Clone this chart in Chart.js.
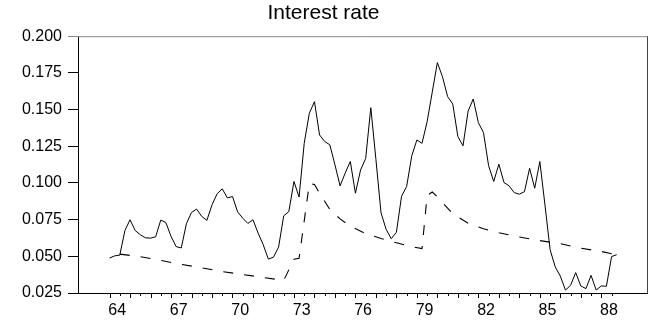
<!DOCTYPE html>
<html>
<head>
<meta charset="utf-8">
<script src="https://cdn.jsdelivr.net/npm/chart.js@4.4.0/dist/chart.umd.min.js"></script>
<style>
  html, body { margin: 0; padding: 0; background: #fff; }
  #wrap { width: 657px; height: 322px; }
</style>
</head>
<body>
<div id="wrap"><canvas id="rateChart"></canvas></div>
<script>
// quarterly interest rate, 64Q1 .. 88Q4
const startYear = 64;
const rate = [
    0.0488, 0.0503, 0.0508, 0.0676, 0.0749, 0.0676, 0.0647, 0.0626, 0.0624, 0.0633,
    0.0747, 0.0730, 0.0636, 0.0566, 0.0557, 0.0722, 0.0799, 0.0822, 0.0772, 0.0745,
    0.0851, 0.0926, 0.0960, 0.0898, 0.0907, 0.0803, 0.0760, 0.0724, 0.0749, 0.0658,
    0.0579, 0.0481, 0.0494, 0.0563, 0.0776, 0.0805, 0.1010, 0.0904, 0.1270, 0.1475,
    0.1554, 0.1327, 0.1282, 0.1260, 0.1124, 0.0980, 0.1067, 0.1146, 0.0930, 0.1088,
    0.1167, 0.1513, 0.1160, 0.0796, 0.0683, 0.0620, 0.0664, 0.0909, 0.0976, 0.1185,
    0.1293, 0.1270, 0.1418, 0.1620, 0.1820, 0.1723, 0.1588, 0.1538, 0.1316, 0.1253,
    0.1490, 0.1572, 0.1411, 0.1343, 0.1117, 0.1010, 0.1128, 0.1003, 0.0980, 0.0934,
    0.0923, 0.0941, 0.1100, 0.0964, 0.1146, 0.0850, 0.0546, 0.0428, 0.0365, 0.0270,
    0.0302, 0.0389, 0.0298, 0.0280, 0.0370, 0.0270, 0.0298, 0.0296, 0.0498, 0.0511
];

// dashed line, read at a few quarters (year + quarter/4)
const trendYears = [
    64.5, 65.5, 66.5, 67.5, 68.5, 69.5, 70.5, 71.5, 72.5, 73.0,
    73.25, 73.75, 74.0, 74.25, 74.75, 75.25, 75.75, 76.5, 77.25, 78.0,
    78.75, 79.25, 79.5, 79.75, 80.0, 80.75, 81.5, 82.25, 83.0, 84.0,
    85.0, 86.0, 87.0, 88.0, 88.5, 88.75
];
const trendRate = [
    0.0515, 0.0497, 0.0472, 0.0445, 0.0422, 0.0396, 0.0376, 0.0356, 0.0336, 0.0480,
    0.0487, 0.0995, 0.0990, 0.0930, 0.0820, 0.0755, 0.0705, 0.0655, 0.0622, 0.0592,
    0.0566, 0.0553, 0.0915, 0.0938, 0.0905, 0.0790, 0.0725, 0.0688, 0.0660, 0.0632,
    0.0607, 0.0586, 0.0555, 0.0533, 0.0518, 0.0528
];

const yTicks = [0.025, 0.050, 0.075, 0.100, 0.125, 0.150, 0.175, 0.200];
const yearLabels = ['64', '67', '70', '73', '76', '79', '82', '85', '88'];

Chart.defaults.font.family = "'Liberation Sans', Arial, sans-serif";
Chart.defaults.color = '#000';

//********************************************************************************
/// frame + half-year tick marks
//********************************************************************************
const framePlugin = {
    id: 'frame',
    afterDraw(chart) {
        const ctx = chart.ctx;
        const area = chart.chartArea;
        const x = chart.scales.x;
        ctx.save();
        ctx.lineWidth = 1;
        ctx.strokeStyle = '#8a8a8a';
        ctx.beginPath();
        ctx.moveTo(area.left, area.top + 0.5);
        ctx.lineTo(area.right, area.top + 0.5);
        ctx.stroke();
        ctx.strokeStyle = '#444';
        ctx.beginPath();
        ctx.moveTo(area.right + 0.5, area.top);
        ctx.lineTo(area.right + 0.5, area.bottom);
        ctx.stroke();

        ctx.strokeStyle = '#000';
        for (let y = startYear; y <= 88.5; y += 0.5) {
            const px = Math.round(x.getPixelForValue(y)) + 0.5;
            const len = (y % 1 === 0) ? 5 : 3;
            ctx.beginPath();
            ctx.moveTo(px, area.bottom);
            ctx.lineTo(px, area.bottom + len);
            ctx.stroke();
        }
        ctx.restore();
    }
};

const ctx = document.getElementById('rateChart');
const chart = new Chart(ctx, {
    type: 'line',
    data: {
        datasets: [{
            label: 'rate',
            data: rate.map((v, i) => ({ x: startYear + i / 4, y: v })),
            borderColor: '#000',
            borderWidth: 1,
            pointRadius: 0,
            tension: 0
        }, {
            label: 'trend',
            data: trendYears.map((yr, i) => ({ x: yr, y: trendRate[i] })),
            borderColor: '#000',
            borderWidth: 1.1,
            borderDash: [10, 11],
            pointRadius: 0,
            tension: 0
        }]
    },
    options: {
        responsive: true,
        maintainAspectRatio: false,
        animation: false,
        devicePixelRatio: 1,
        layout: { padding: { left: 0, right: 10, top: 0, bottom: 0 } },
        plugins: {
            legend: { display: false },
            tooltip: { enabled: false },
            title: {
                display: true,
                text: 'Interest rate',
                color: '#000',
                font: { size: 21, weight: 'normal' },
                padding: { top: 1, bottom: 10 }
            }
        },
        scales: {
            x: {
                type: 'linear',
                min: 62.46,
                max: 90.23,
                afterBuildTicks: (scale) => {
                    // labels sit in the middle of each year
                    scale.ticks = yearLabels.map(l => ({ value: Number(l) + 0.375 }));
                },
                afterFit: (scale) => { scale.height = 29; },
                ticks: {
                    autoSkip: false,
                    maxRotation: 0,
                    padding: 0,
                    font: { size: 16 },
                    callback: (v, i) => yearLabels[i]
                },
                grid: { display: false },
                border: { display: true, color: '#000', width: 1 }
            },
            y: {
                min: 0.025,
                max: 0.200,
                afterBuildTicks: (scale) => {
                    scale.ticks = yTicks.map(v => ({ value: v }));
                },
                afterFit: (scale) => { scale.width = 78; },
                ticks: {
                    padding: 6,
                    font: { size: 16 },
                    callback: (v) => Number(v).toFixed(3)
                },
                grid: {
                    drawOnChartArea: false,
                    tickLength: 10,
                    color: (c) => (c.tick && c.tick.value === 0.2) ? '#8a8a8a' : '#000'
                },
                border: { display: true, color: '#000', width: 1 }
            }
        }
    },
    plugins: [framePlugin]
});
</script>
</body>
</html>
